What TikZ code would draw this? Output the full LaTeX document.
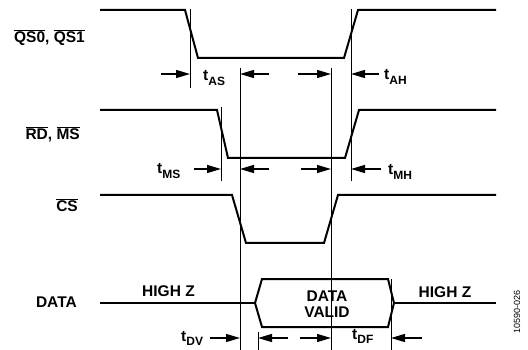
\documentclass[tikz,border=0pt]{standalone}
\usepackage{fontspec}
\setmainfont{Liberation Sans}
\usetikzlibrary{arrows.meta}
\newcommand{\ovl}[1]{$\overline{\hbox{#1}}$}
\newcommand{\tsub}[1]{t\raisebox{-0.3em}{\fontsize{12}{12}\selectfont #1}}
\tikzset{
  wave/.style={line width=2pt, line join=miter},
  guide/.style={line width=0.9pt},
  dim/.style={line width=1.3pt, -{Triangle[length=14pt,width=8pt]}},
  lbl/.style={font=\fontsize{15.5}{16}\selectfont\bfseries, inner sep=0pt},
  tlbl/.style={font=\fontsize{15.5}{16}\selectfont\bfseries, inner sep=0pt, anchor=base west},
}
\begin{document}
\begin{tikzpicture}[x=1pt,y=-1pt]
\useasboundingbox (0,0) rectangle (528,350);
% signal names
\node[lbl, anchor=east] (nqs) at (85,38) {\ovl{QS0}, \ovl{QS1}};
\node[lbl, anchor=east] (nrd) at (80,134) {\ovl{RD}, \ovl{MS}};
\node[lbl, anchor=east] (ncs) at (78,205) {\ovl{CS}};
\node[lbl, anchor=east] (ndata) at (77,302.5) {DATA};
% waveforms
\draw[wave] (100,10) -- (185,10) -- (198,58) -- (344,58) -- (358,10) -- (496,10);
\draw[wave] (100,110) -- (217,110) -- (228,158) -- (345,158) -- (359,110) -- (496,110);
\draw[wave] (100,195) -- (232,195) -- (246,243) -- (324,243) -- (338,195) -- (496,195);
\draw[wave] (100,303) -- (255,303);
\draw[wave] (255,303) -- (262,279) -- (388,279) -- (394,303) -- (388,327) -- (262,327) -- cycle;
\draw[wave] (394,303) -- (496,303);
\node[lbl] (hz1) at (168.5,291.5) {HIGH Z};
\node[lbl] (hz2) at (445,292) {HIGH Z};
\node[lbl, align=center] (dv) at (327,304.5) {DATA\\VALID};
% guide lines
\draw[guide] (190,9) -- (190,88);
\draw[guide] (240,68) -- (240,350);
\draw[guide] (331,68) -- (331,350);
\draw[guide] (351,9) -- (351,181);
\draw[guide] (221,107) -- (221,181);
\draw[guide] (258,332) -- (258,350);
\draw[guide] (391,279) -- (391,350);
% dimension arrows row 1
\draw[dim] (161,74) -- (190,74);
\draw[dim] (269,74) -- (240,74);
\draw[dim] (298,74) -- (331,74);
\draw[dim] (379,74) -- (351,74);
\node[tlbl] (tas) at (203,81) {\tsub{AS}};
\node[tlbl] (tah) at (384,80) {\tsub{AH}};
% row 2
\draw[dim] (194,169) -- (221,169);
\draw[dim] (269,169) -- (240,169);
\draw[dim] (301,169) -- (331,169);
\draw[dim] (381,169) -- (351,169);
\node[tlbl] (tms) at (157,174) {\tsub{MS}};
\node[tlbl] (tmh) at (388,175) {\tsub{MH}};
% row 4
\draw[dim] (210,338) -- (240,338);
\draw[dim] (288,338) -- (258,338);
\draw[dim] (300,338) -- (331,338);
\draw[dim] (422,338) -- (391,338);
\node[tlbl] (tdv) at (181,341) {\tsub{DV}};
\node[tlbl] (tdf) at (352,339) {\tsub{DF}};
% figure number
\node[font=\fontsize{9}{9}\selectfont, rotate=90, inner sep=0pt] (fig) at (517,312) {10590-026};
\end{tikzpicture}
\end{document}
